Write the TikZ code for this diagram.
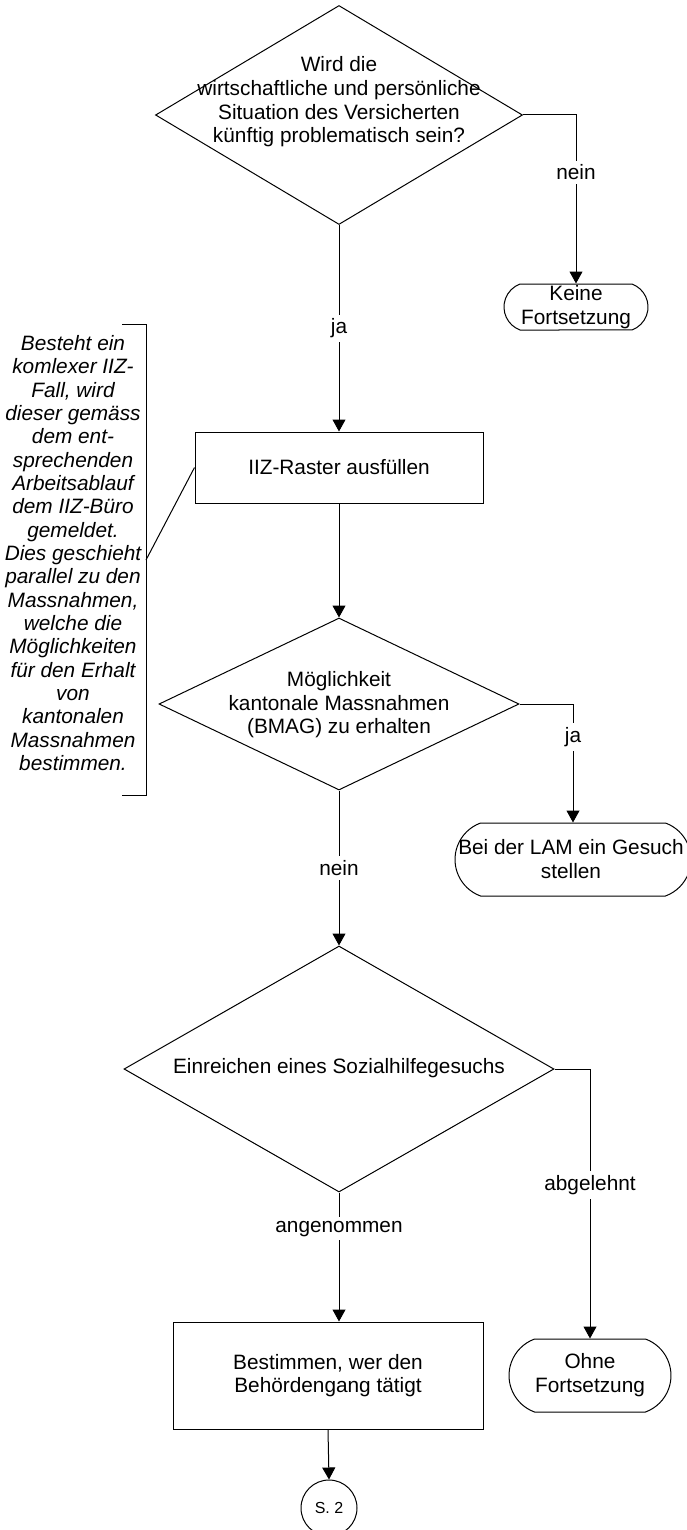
\documentclass[tikz,border=0pt]{standalone}
\usepackage{fontspec}
\setmainfont{Liberation Sans}
\usetikzlibrary{shapes.geometric,shapes.misc,arrows.meta}

\begin{document}
\begin{tikzpicture}[x=0.5pt,y=-0.5pt,font=\fontsize{10.4}{11.8}\selectfont,line width=0.5pt]
  \useasboundingbox (0,0) rectangle (686,1530);
  \tikzstyle{DecisionStyle}=[draw,diamond,inner sep=0pt]
  \tikzstyle{TerminalStyle}=[draw,rounded rectangle,rounded rectangle arc length=140,inner sep=0pt]
  \tikzstyle{ProcessStyle}=[draw,rectangle,align=center,inner sep=0pt]
  \tikzstyle{TextStyle}=[align=center,inner sep=0pt]
  \node[DecisionStyle,minimum width=183.5pt,minimum height=109.5pt] (1) at (339,115) {};
  \node[TextStyle] (1t) at (339,102) {Wird die\\wirtschaftliche und persönliche\\Situation des Versicherten\\künftig problematisch sein?};
  \node[TerminalStyle,minimum width=72pt,minimum height=23pt] (2) at (576,307) {};
  \node[TextStyle] (2t) at (576,307) {Keine\\Fortsetzung};
  \node[ProcessStyle,minimum width=144pt,minimum height=35.5pt] (3) at (339,467.5) {IIZ-Raster ausfüllen};
  \node[DecisionStyle,minimum width=180pt,minimum height=86pt] (4) at (339,704) {};
  \node[TextStyle] (4t) at (339,705) {Möglichkeit\\kantonale Massnahmen\\(BMAG) zu erhalten};
  \node[TerminalStyle,minimum width=118pt,minimum height=36.5pt] (5) at (573,859.5) {};
  \node[TextStyle] (5t) at (571,859) {Bei der LAM ein Gesuch\\stellen};
  \node[DecisionStyle,minimum width=215pt,minimum height=123pt] (6) at (339,1069) {};
  \node[TextStyle] (6t) at (339,1068) {Einreichen eines Sozialhilfegesuchs};
  \node[TerminalStyle,minimum width=81pt,minimum height=36.5pt] (7) at (590,1375.5) {};
  \node[TextStyle] (7t) at (590,1375) {Ohne\\Fortsetzung};
  \node[ProcessStyle,minimum width=155pt,minimum height=53.5pt] (8) at (328,1375.5) {Bestimmen, wer den\\Behördengang tätigt};
  \node[draw,circle,minimum size=28pt,inner sep=0pt,font=\fontsize{8}{9}\selectfont] (9) at (329,1508) {S. 2};
  % Bemerkung links
  \tikzstyle{NoteStyle}=[align=center,inner sep=0pt,font=\fontsize{10.4}{11.67}\selectfont\itshape]
  \node[NoteStyle] (10) at (73,553) {Besteht ein\\komlexer IIZ-\\Fall, wird\\dieser gemäss\\dem ent-\\sprechenden\\Arbeitsablauf\\dem IIZ-Büro\\gemeldet.\\Dies geschieht\\parallel zu den\\Massnahmen,\\welche die\\Möglichkeiten\\für den Erhalt\\von\\kantonalen\\Massnahmen\\bestimmen.};
  \draw (122,324) -- (146,324) -- (146,795) -- (122,795);
  \coordinate (10a) at (146,560);
  \draw (10a) -- (3.west);
  \tikzstyle{EdgeStyle}=[->,>={Triangle[length=6pt,width=6.5pt]}]
  \tikzstyle{LabelStyle}=[fill=white,inner sep=2pt]
  \draw[EdgeStyle] (1.east) -| node[LabelStyle,pos=0.67] {nein} (2.north);
  \draw[EdgeStyle] (1.south) -- node[LabelStyle,pos=0.5] {ja} (3.north);
  \draw[EdgeStyle] (3.south) -- (4.north);
  \draw[EdgeStyle] (4.east) -| node[LabelStyle,pos=0.64] {ja} (5.north);
  \draw[EdgeStyle] (4.south) -- node[LabelStyle,pos=0.5] {nein} (6.north);
  \draw[EdgeStyle] (6.east) -| node[LabelStyle,pos=0.715] {abgelehnt} (7.north);
  \draw[EdgeStyle] (6.south) -- node[LabelStyle,pos=0.28] {angenommen} (6.south |- 8.north);
  \draw[EdgeStyle] (8.south) -- (9.north);
\end{tikzpicture}
\end{document}
